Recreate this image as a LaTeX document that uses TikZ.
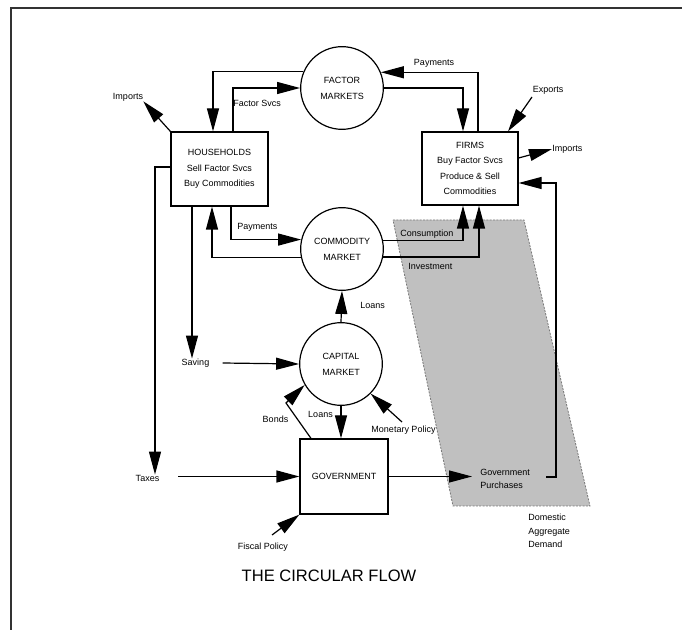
\documentclass[tikz,border=0pt]{standalone}
\usepackage{fontspec}
\setmainfont{Liberation Sans}
\usetikzlibrary{arrows.meta,calc}
\definecolor{adshade}{RGB}{192,192,192}
\definecolor{adedge}{RGB}{120,120,120}
\tikzset{
  every node/.style={font=\fontsize{6.75pt}{8pt}\selectfont, inner sep=0pt},
  arr/.style={draw, line width=0.9pt, -{Triangle[length=17.25pt,width=9pt]}},
  mkt/.style={draw, circle, line width=0.9pt, minimum size=62pt, align=center,
    font=\fontsize{6.75pt}{12pt}\selectfont},
  sector/.style={draw, rectangle, line width=0.9pt, align=center,
    font=\fontsize{6.75pt}{11.6pt}\selectfont},
  multi/.style={align=left, font=\fontsize{6.75pt}{10pt}\selectfont},
}
\begin{document}
\begin{tikzpicture}[x=0.75pt,y=-0.75pt]
\useasboundingbox (0,0) rectangle (682,630);
\fill[white] (0,0) rectangle (682,630);
% frame
\draw[line width=1.3pt, black!80] (11,630) -- (11,8) -- (682,8);
% domestic aggregate demand region
\filldraw[fill=adshade, draw=adedge, dash pattern=on 1.5pt off 1pt, line width=0.6pt]
  (393,220) -- (524,220) -- (590,506) -- (453,506) -- cycle;

% markets
\node[mkt] (fm) at (342,88) {FACTOR\\MARKETS};
\node[mkt] (cm) at (342,249) {COMMODITY\\MARKET};
\node[mkt] (km) at (341,364) {CAPITAL\\MARKET};
% sectors
\node[sector, minimum width=72.75pt, minimum height=55.5pt] (hh) at (219.5,169)
  {HOUSEHOLDS\\Sell Factor Svcs\\Buy Commodities};
\node[sector, minimum width=72pt, minimum height=54.75pt] (fi) at (470,168.5)
  {FIRMS\\Buy Factor Svcs\\Produce \& Sell\\Commodities};
\node[sector, minimum width=66pt, minimum height=56.25pt] (gv) at (344,476.5)
  {GOVERNMENT};

% labels
\node (imh) at (128,97) {Imports};
\node[anchor=west] (fsv) at (233,103) {Factor Svcs};
\node (pay1) at (434,63) {Payments};
\node (ex) at (548,90) {Exports};
\node[anchor=west] (imf) at (552,149) {Imports};
\node[anchor=west] (pay2) at (237,227) {Payments};
\node[anchor=west] (cons) at (400,234) {Consumption};
\node[anchor=west] (inv) at (408,266) {Investment};
\node[anchor=west] (ln1) at (360,305) {Loans};
\node (sv) at (195.5,363) {Saving};
\node (bd) at (275.5,419) {Bonds};
\node (ln2) at (320.5,414) {Loans};
\node (mp) at (403.5,430) {Monetary Policy};
\node (tx) at (147.5,478) {Taxes};
\node[multi, anchor=west] (gp) at (480,479) {Government\\Purchases};
\node (fp) at (263,547) {Fiscal Policy};
\node[multi, anchor=north west] (ad) at (528,514) {Domestic\\ Aggregate\\ Demand};
\node[font=\fontsize{12.4pt}{14pt}\selectfont] (title) at (329,576) {THE CIRCULAR FLOW};

\coordinate (gpo) at (546,477);
\coordinate (exs) at (532,97);
\coordinate (fps) at (272,535);
\coordinate (mps) at (402,422);

% factor market flows
\draw[arr] (hh.north -| 233,0) |- (fm.west);
\draw[arr] (fm.157.6) -| (hh.north -| 213,0);
\draw[arr] (fi.north -| 478,0) |- (fm.22.4);
\draw[arr] (fm.east) -| (fi.north -| 463,0);
% trade
\draw[arr] (hh.north west) -- (imh.south east);
\draw[arr] (exs) -- (fi.north -| 508,0);
\draw[arr] (fi.east |- 0,158) -- (imf.west);
% commodity market flows
\draw[arr] (hh.south -| 231,0) |- (cm.167.3);
\draw[arr] (cm.-168.8) -| (hh.south -| 212,0);
\draw[arr] (cm.12.7) -| (fi.south -| 463,0);
\draw[arr] (cm.-11.2) -| (fi.south -| 479,0);
% saving / capital market
\draw[arr] (hh.south -| 192,0) -- (sv.north -| 192,0);
\draw[arr] ($(sv.east)+(13,0)$) -- (km.west);
\draw[arr] (km.north) -- (cm.south);
\draw[arr] (km.south) -- (km.south |- gv.north);
\draw[arr] (gv.north -| 311,0) -- (286,403) -- (km.-150);
\draw[arr] (mps) -- (km.-45);
% government
\draw[arr] (hh.west |- 0,167) -- (155,167) -- (tx.north -| 155,0);
\draw[arr] (gv.west -| 178,0) -- (gv.west);
\draw[arr] (gv.east) -- (gv.east -| 472,0);
\draw[arr] (fps) -- (gv.south west);
\draw[arr] (gpo) -- ++(10,0) |- (fi.east |- 0,183);
\end{tikzpicture}
\end{document}
